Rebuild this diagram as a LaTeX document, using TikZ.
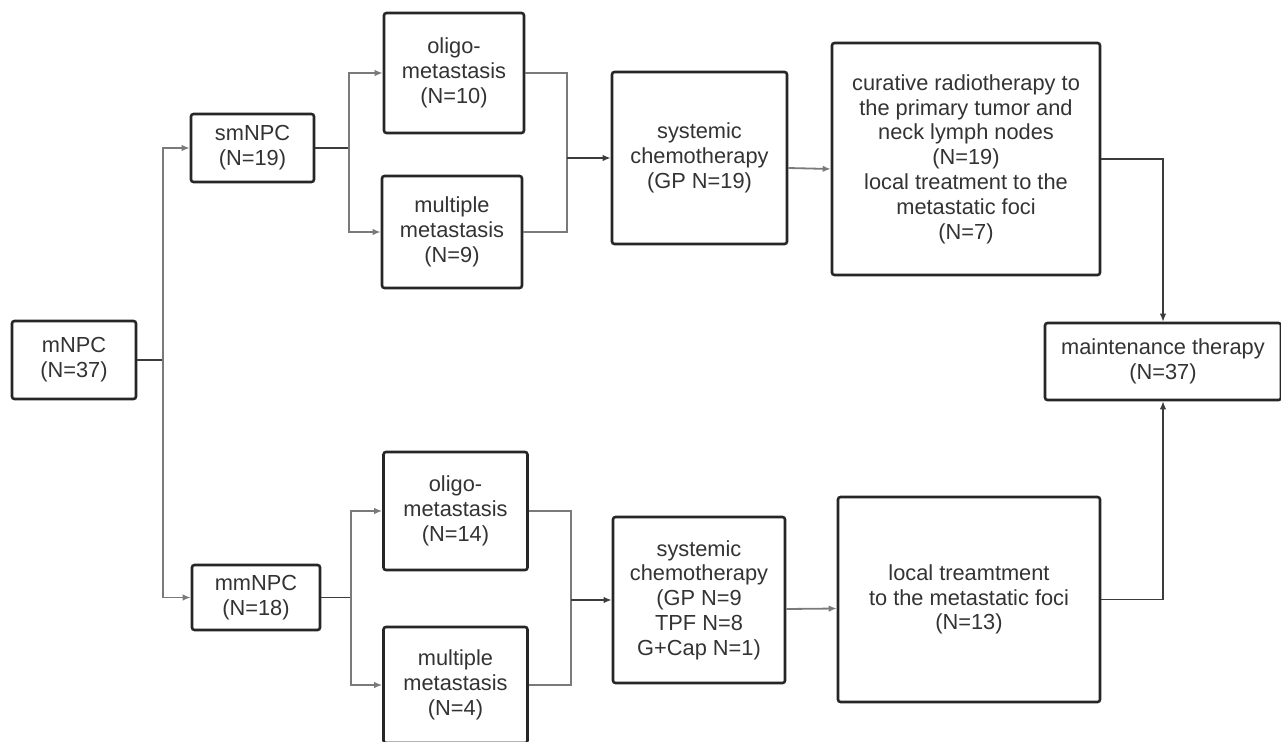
\documentclass[tikz,border=0pt]{standalone}
\usepackage{fontspec}
\setmainfont{Liberation Sans}
\usetikzlibrary{arrows.meta}
\definecolor{boxline}{HTML}{262626}
\definecolor{txt}{HTML}{333333}
\definecolor{conn}{HTML}{7A7A7A}
\definecolor{conndark}{HTML}{3C3C3C}
\begin{document}
\begin{tikzpicture}[x=1pt,y=-1pt,
  box/.style={draw=boxline, line width=2.6pt, rounded corners=2.5pt, fill=white,
    text=txt, align=center, inner sep=0pt,
    font=\fontsize{21.8}{24.8}\selectfont},
  link/.style={draw=conn, line width=1.8pt},
  darklink/.style={draw=conndark, line width=1.8pt},
  tip/.style={-{Latex[length=8pt,width=6.5pt]}, },
]
\useasboundingbox (0,0) rectangle (1281,741);
\clip (0,0) rectangle (1281,741);

% nodes
\node[box, minimum width=124pt, minimum height=78pt] (mNPC) at (74,360) {mNPC\\(N=37)};
\node[box, minimum width=123pt, minimum height=68pt] (smNPC) at (252.5,148) {smNPC\\(N=19)};
\node[box, minimum width=128pt, minimum height=65pt] (mmNPC) at (256,597.5) {mmNPC\\(N=18)};
\node[box, minimum width=140pt, minimum height=120pt] (oligoA) at (454,73) {oligo-\\metastasis\\(N=10)};
\node[box, minimum width=140pt, minimum height=112pt] (multA) at (452,232) {multiple\\metastasis\\(N=9)};
\node[box, minimum width=175pt, minimum height=172pt] (chemoA) at (699.5,158) {systemic\\chemotherapy\\(GP N=19)};
\node[box, minimum width=268pt, minimum height=232pt] (cur) at (966,159) {curative radiotherapy to\\the primary tumor and\\neck lymph nodes\\(N=19)\\local treatment to the\\metastatic foci\\(N=7)};
\node[box, minimum width=236pt, minimum height=77pt] (maint) at (1163,361.5) {maintenance therapy\\(N=37)};
\node[box, minimum width=144pt, minimum height=118pt] (oligoB) at (455.5,511) {oligo-\\metastasis\\(N=14)};
\node[box, minimum width=144pt, minimum height=116pt] (multB) at (455.5,685) {multiple\\metastasis\\(N=4)};
\node[box, minimum width=172pt, minimum height=166pt] (chemoB) at (699,600) {systemic\\chemotherapy\\(GP N=9\\TPF N=8\\G+Cap N=1)};
\node[box, minimum width=262pt, minimum height=205pt] (local) at (969,599.5) {local treamtment\\to the metastatic foci\\(N=13)};

% junctions
\coordinate (j1) at (163,360);
\coordinate (j2) at (349,148);
\coordinate (j3) at (351,597.5);
\coordinate (j4) at (567,158);
\coordinate (j5) at (571,600);

% connectors
\draw[darklink] (mNPC.east) -- (j1);
\draw[link, tip] (j1) |- (smNPC.west);
\draw[link, tip] (j1) |- (mmNPC.west);

\draw[darklink] (smNPC.east) -- (j2);
\draw[link, tip] (j2) |- (oligoA.west);
\draw[link, tip] (j2) |- (multA.west);

\draw[darklink] (mmNPC.east) -- (j3);
\draw[link, tip] (j3) |- (oligoB.west);
\draw[link, tip] (j3) |- (multB.west);

\draw[link] (oligoA.east) -| (j4);
\draw[link] (multA.east) -| (j4);
\draw[darklink, tip] (j4) -- (chemoA.west);

\draw[link] (oligoB.east) -| (j5);
\draw[link] (multB.east) -| (j5);
\draw[darklink, tip] (j5) -- (chemoB.west);

\draw[link, tip] ([yshift=-10pt]chemoA.east) -- ([yshift=-10pt]cur.west);
\draw[link, tip] ([yshift=-9pt]chemoB.east) -- ([yshift=-9pt]local.west);

\draw[darklink, line width=1.4pt, tip] (cur.east) -| (maint.north);
\draw[darklink, line width=1.4pt, tip] (local.east) -| (maint.south);
\end{tikzpicture}
\end{document}
